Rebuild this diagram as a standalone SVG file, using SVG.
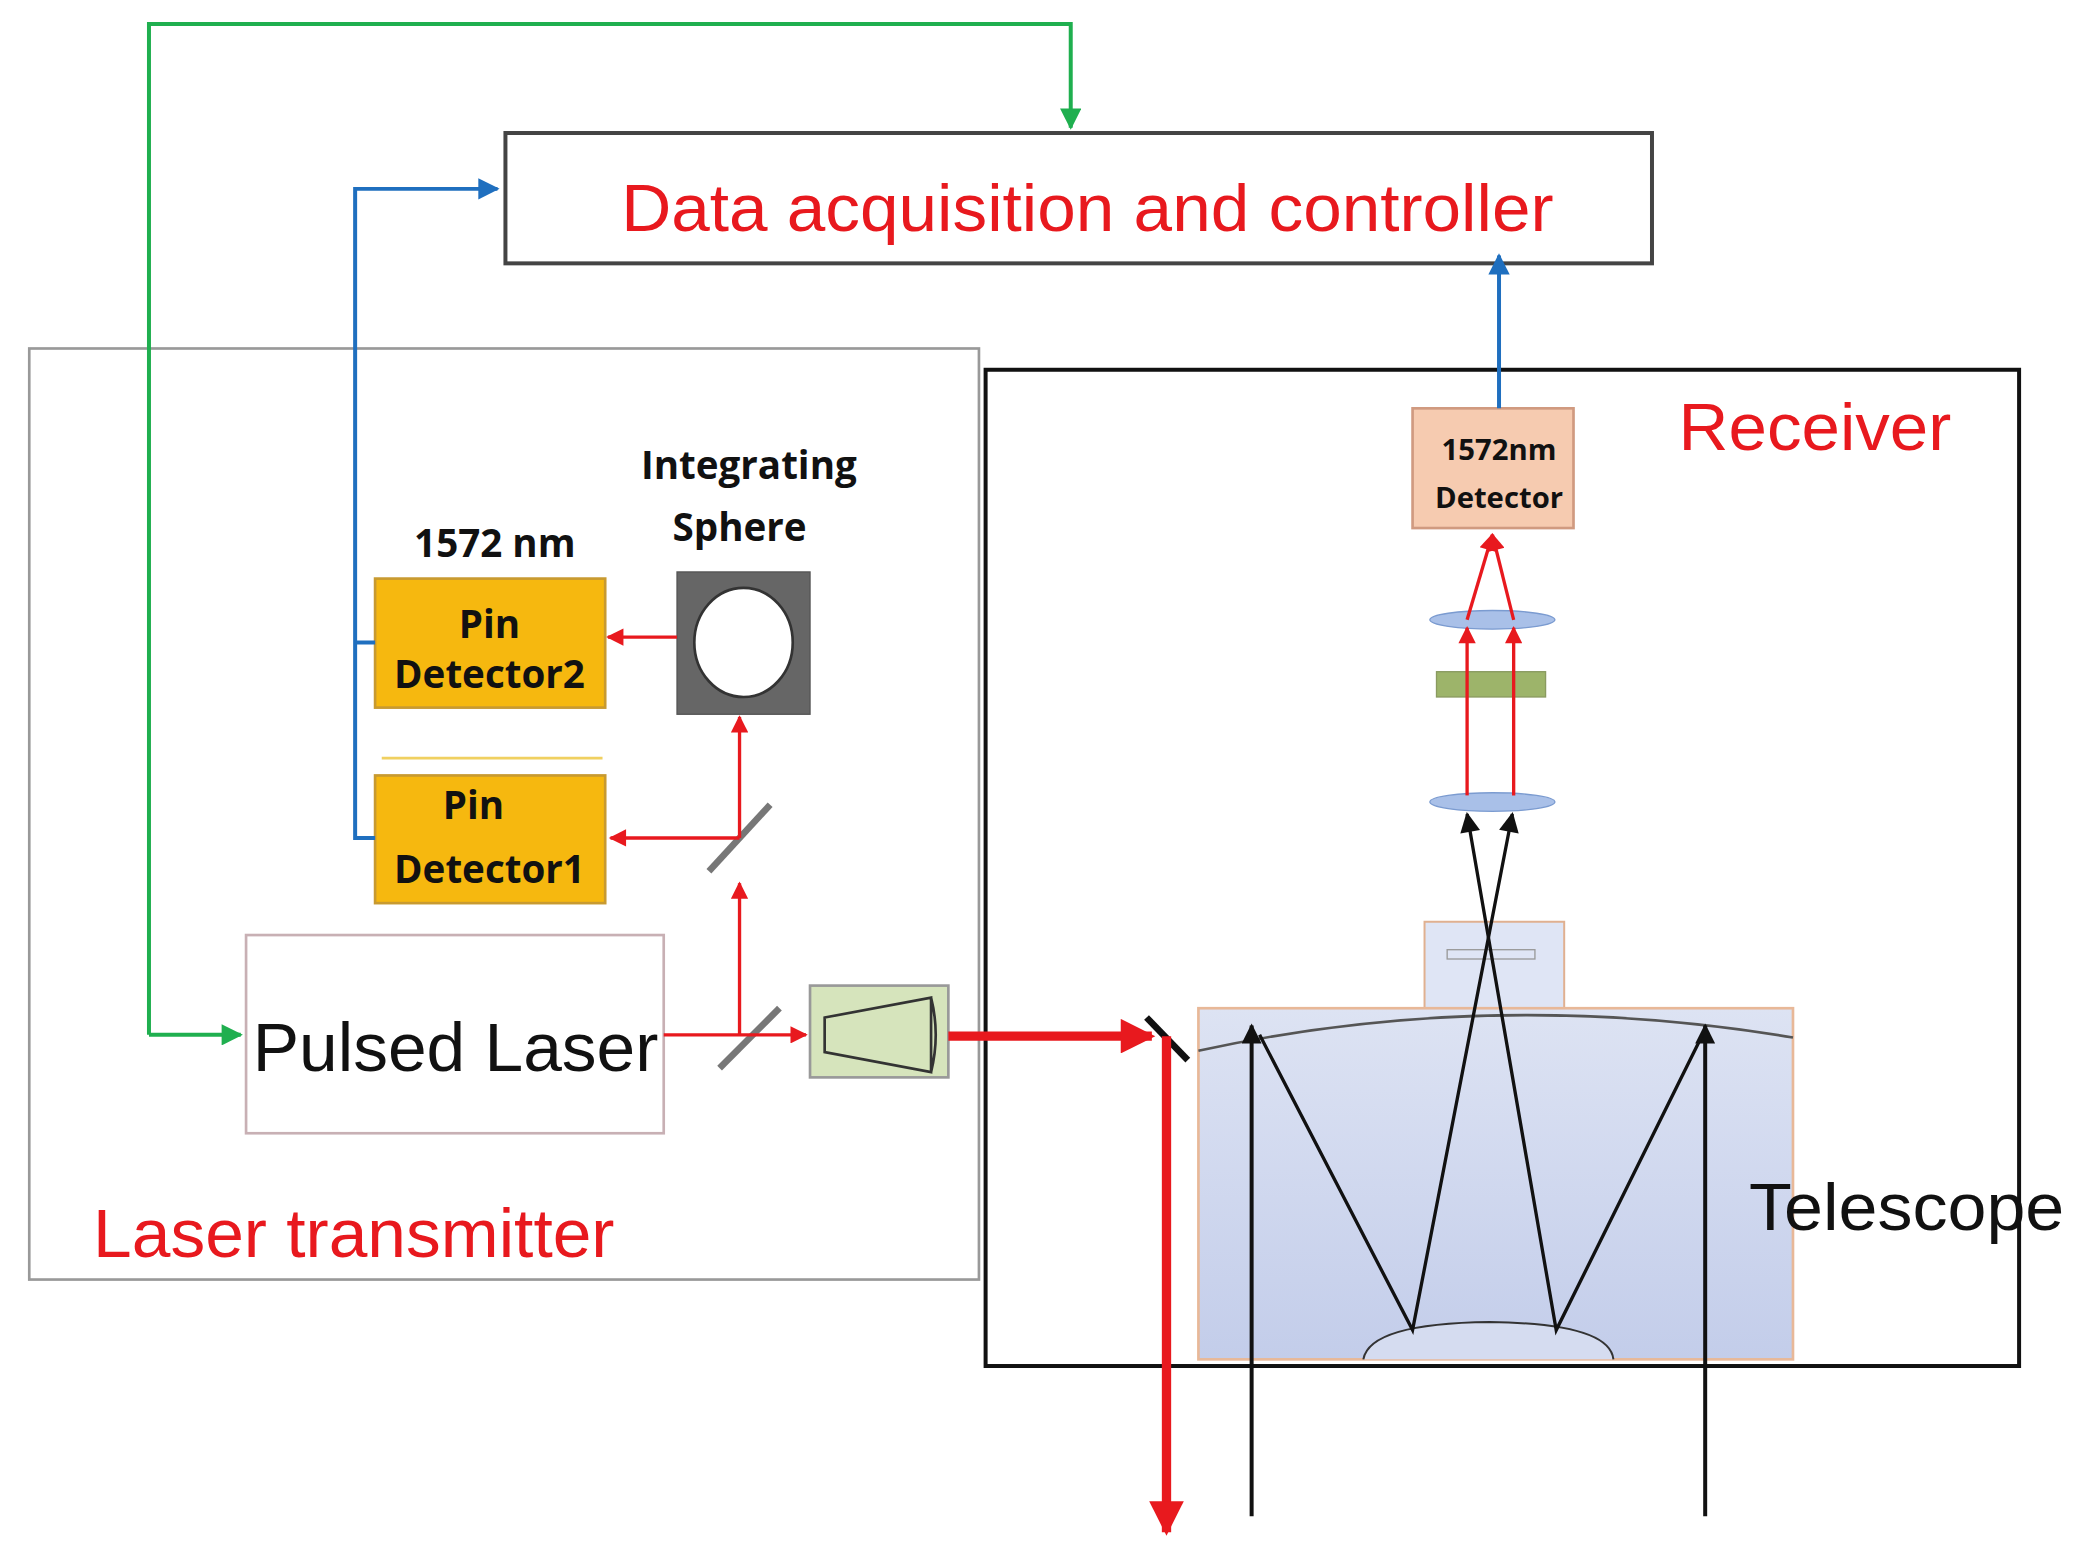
<svg xmlns="http://www.w3.org/2000/svg" width="2075" height="1555" viewBox="0 0 2075 1555">
<defs>
<style>
.red{fill:#e8191e;font-family:"Liberation Sans",Arial,sans-serif}
.b{font-family:"Open Sans","Liberation Sans",sans-serif;font-weight:bold;fill:#111}
</style>
<marker id="ag" viewBox="0 0 10 10" refX="9" refY="5" markerWidth="22" markerHeight="16" orient="auto" markerUnits="userSpaceOnUse"><path d="M0,0L10,5L0,10z" fill="#1faf4f"/></marker>
<marker id="ab" viewBox="0 0 10 10" refX="9" refY="5" markerWidth="24" markerHeight="16" orient="auto" markerUnits="userSpaceOnUse"><path d="M0,0L10,5L0,10z" fill="#1f6fbf"/></marker>
<marker id="ar" viewBox="0 0 10 10" refX="9" refY="5" markerWidth="16" markerHeight="13" orient="auto" markerUnits="userSpaceOnUse"><path d="M0,0L10,5L0,10z" fill="#e8191e"/></marker>
<marker id="arT" viewBox="0 0 10 10" refX="9" refY="5" markerWidth="32" markerHeight="26" orient="auto" markerUnits="userSpaceOnUse"><path d="M0,0L10,5L0,10z" fill="#e8191e"/></marker>
<marker id="ak" viewBox="0 0 10 10" refX="9" refY="5" markerWidth="20" markerHeight="15" orient="auto" markerUnits="userSpaceOnUse"><path d="M0,0L10,5L0,10z" fill="#111"/></marker>
<linearGradient id="tg" x1="0" y1="0" x2="0" y2="1"><stop offset="0" stop-color="#dde3f3"/><stop offset="1" stop-color="#c3cdea"/></linearGradient>
</defs>
<g transform="scale(1.3301)">
<g id="transmitter"><rect x="22" y="262" width="714" height="700" fill="none" stroke="#999" stroke-width="2"/><text class="red" x="70" y="945" font-size="52" textLength="392" lengthAdjust="spacingAndGlyphs">Laser transmitter</text></g>
<g id="receiver"><rect x="741" y="278" width="777" height="749" fill="none" stroke="#111" stroke-width="3"/><text class="red" x="1262" y="338" font-size="50" textLength="205" lengthAdjust="spacingAndGlyphs">Receiver</text></g>
<g id="daq"><rect x="380" y="100" width="862" height="98" fill="#fff" stroke="#444" stroke-width="3"/><text class="red" x="467" y="174" font-size="50" textLength="701" lengthAdjust="spacingAndGlyphs">Data acquisition and controller</text></g>
<g id="telescope">
<rect x="1071" y="693" width="105" height="65" fill="#dfe5f5" stroke="#e0b090" stroke-width="1.5"/>
<rect x="1088" y="714" width="66" height="7" fill="none" stroke="#999"/>
<rect x="901" y="758" width="447" height="264" fill="url(#tg)" stroke="#e8b898" stroke-width="2"/>
<path d="M901,790 Q1120,742 1348,780" fill="none" stroke="#555" stroke-width="2"/>
<path d="M1025,1022 Q1030,995 1120,994 Q1210,995 1213,1022" fill="#d5dcf0" stroke="#333" stroke-width="1.5"/>
<text x="1315" y="925" font-size="50" textLength="237" lengthAdjust="spacingAndGlyphs" font-family="Liberation Sans,Arial,sans-serif" fill="#111">Telescope</text>
</g>
<g id="pd2"><rect x="282" y="435" width="173" height="97" fill="#f6b80f" stroke="#c89a30" stroke-width="2"/><text class="b" font-size="29" x="368" y="480" text-anchor="middle">Pin</text><text class="b" font-size="29" x="368" y="517" text-anchor="middle">Detector2</text></g>
<g id="pd1"><rect x="282" y="583" width="173" height="96" fill="#f6b80f" stroke="#c89a30" stroke-width="2"/><text class="b" font-size="29" x="356" y="616" text-anchor="middle">Pin</text><text class="b" font-size="29" x="368" y="664" text-anchor="middle">Detector1</text></g>
<line x1="287" y1="570" x2="453" y2="570" stroke="#f0d060" stroke-width="2"/>
<text class="b" font-size="29" x="372" y="419" text-anchor="middle">1572 nm</text>
<g id="sphere"><rect x="509" y="430" width="100" height="107" fill="#666" stroke="#555"/><ellipse cx="559" cy="483" rx="37" ry="41" fill="#fff" stroke="#333" stroke-width="2"/><text class="b" font-size="29" x="563" y="360" text-anchor="middle">Integrating</text><text class="b" font-size="29" x="556" y="407" text-anchor="middle">Sphere</text></g>
<g id="laser"><rect x="185" y="703" width="314" height="149" fill="#fff" stroke="#c8b0b4" stroke-width="2"/><text x="190" y="805" font-size="52" textLength="305" lengthAdjust="spacingAndGlyphs" font-family="Liberation Sans,Arial,sans-serif" fill="#111">Pulsed Laser</text></g>
<g id="expander"><rect x="609" y="741" width="104" height="69" fill="#d6e4bc" stroke="#999" stroke-width="2"/><path d="M620,765 L700,750 L700,806 L620,791z M620,765 V791 M700,750 Q707,778 700,806" fill="none" stroke="#333" stroke-width="2"/></g>
<g id="optics">
<line x1="533" y1="655" x2="579" y2="605" stroke="#777" stroke-width="5"/>
<line x1="541" y1="803" x2="586" y2="758" stroke="#777" stroke-width="5"/>
<line x1="862" y1="765" x2="893" y2="797" stroke="#111" stroke-width="5"/>
<ellipse cx="1122" cy="603" rx="47" ry="7" fill="#a9c0e8" stroke="#7b9bd0"/>
<ellipse cx="1122" cy="466" rx="47" ry="7" fill="#a9c0e8" stroke="#7b9bd0"/>
<rect x="1080" y="505" width="82" height="19" fill="#9db46a" stroke="#8a9a60"/>
</g>
<g id="det"><rect x="1062" y="307" width="121" height="90" fill="#f6cbb0" stroke="#d09a80" stroke-width="2"/><text class="b" font-size="22" x="1127" y="346" text-anchor="middle">1572nm</text><text class="b" font-size="22" x="1127" y="382" text-anchor="middle">Detector</text></g>
<g id="connectors" fill="none">
<path d="M112,778 V18 H805 V96" stroke="#1faf4f" stroke-width="3" marker-end="url(#ag)"/>
<path d="M112,778 H181" stroke="#1faf4f" stroke-width="3" marker-end="url(#ag)"/>
<path d="M282,483 H267 V630 H282 M267,483 V142 H374" stroke="#1f6fbf" stroke-width="3" marker-end="url(#ab)"/>
<path d="M1127,307 V192" stroke="#1f6fbf" stroke-width="3" marker-end="url(#ab)"/>
<g stroke="#e8191e" stroke-width="2.5">
<path d="M509,479 H457" marker-end="url(#ar)"/>
<path d="M556,630 V539" marker-end="url(#ar)"/>
<path d="M556,630 H459" marker-end="url(#ar)"/>
<path d="M499,778 H606" marker-end="url(#ar)"/>
<path d="M556,778 V664" marker-end="url(#ar)"/>
<path d="M1103,598 V472" marker-end="url(#ar)"/>
<path d="M1138,598 V472" marker-end="url(#ar)"/>
<path d="M1103,466 L1122,402" marker-end="url(#ar)"/>
<path d="M1138,466 L1122,402" marker-end="url(#ar)"/>
</g>
<path d="M713,779 H866" stroke="#e8191e" stroke-width="7" marker-end="url(#arT)"/>
<path d="M877,779 V1152" stroke="#e8191e" stroke-width="7" marker-end="url(#arT)"/>
<g stroke="#111" stroke-width="3">
<path d="M941,1140 V771" marker-end="url(#ak)"/>
<path d="M1282,1140 V771" marker-end="url(#ak)"/>
</g>
<g stroke="#111" stroke-width="2.5">
<path d="M947,778 L1062,1000 L1137,612" marker-end="url(#ak)"/>
<path d="M1280,778 L1170,1000 L1103,612" marker-end="url(#ak)"/>
</g>
</g>
</g>
</svg>
